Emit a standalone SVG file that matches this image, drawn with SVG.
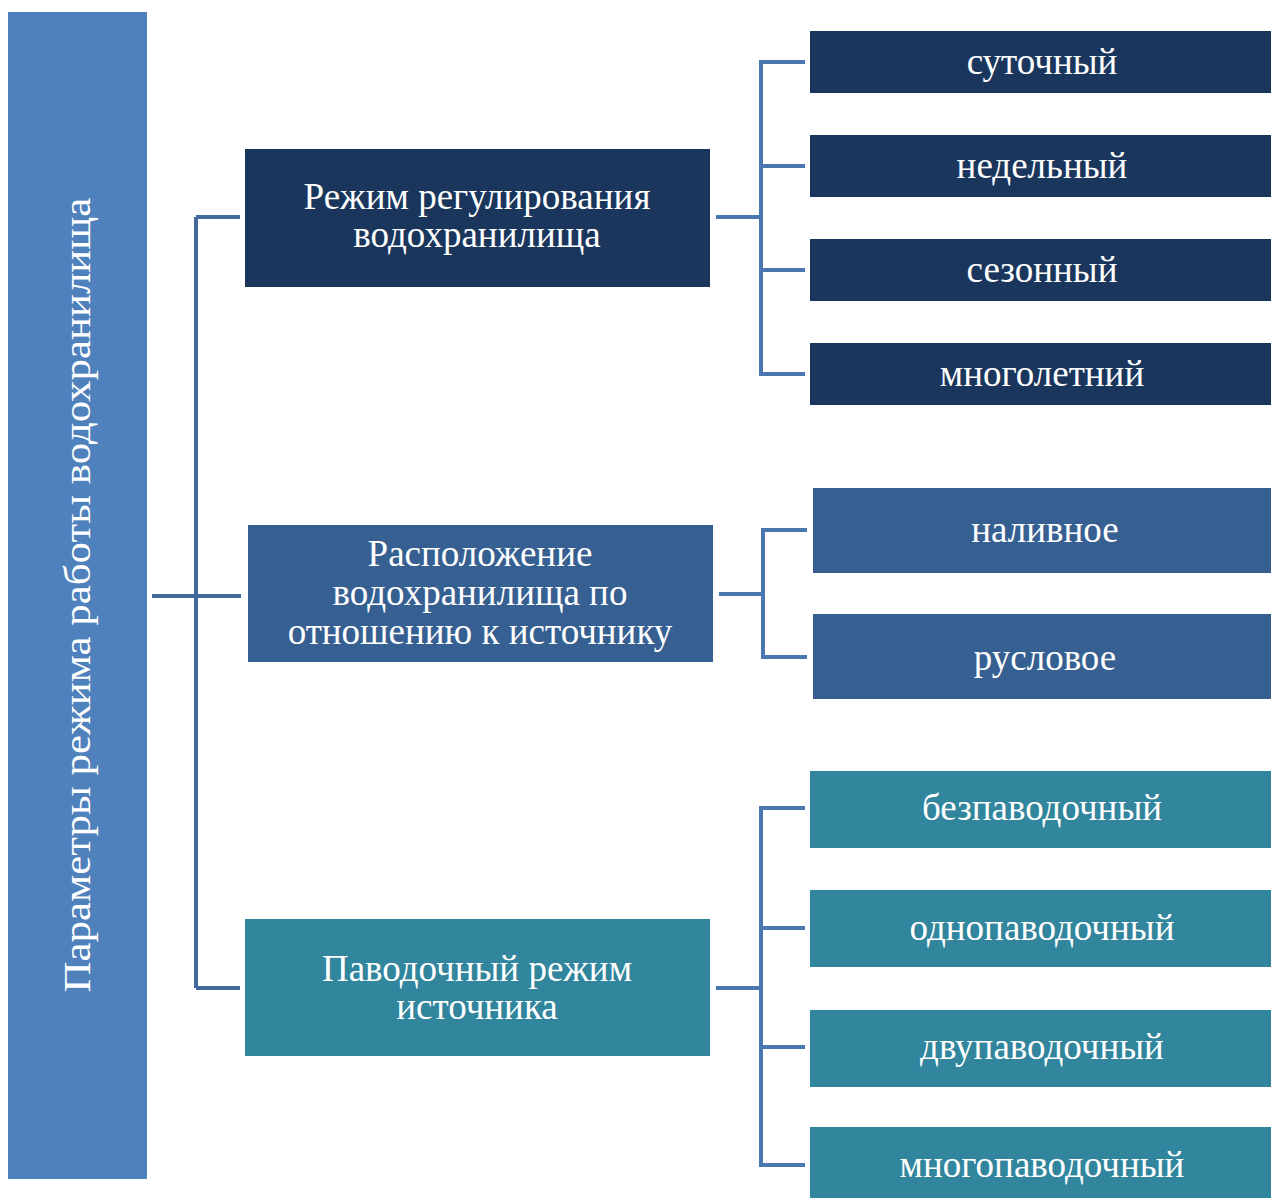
<svg xmlns="http://www.w3.org/2000/svg" width="1271" height="1198" viewBox="0 0 1271 1198">
<style>
text{font-family:"Liberation Serif","Times New Roman",serif;fill:#ffffff;font-size:37px;text-anchor:middle}
.c1{fill:#1a365d}.c2{fill:#376092}.c3{fill:#31859c}
.ln{fill:none;stroke-width:4;stroke-linejoin:miter}
.lm{stroke:#41699b}.lr{stroke:#4a77b0}
</style>
<rect width="1271" height="1198" fill="#ffffff"/>
<g id="connectors">
<path class="ln lm" d="M152 596H241M196 596V217M196 217H240M196 596V988M196 988H240"/>
<path class="ln lr" d="M716 217H761M805 62H761V374H805M761 166H805M761 270H805"/>
<path class="ln lr" d="M719 594H763M807 530H763V657H807"/>
<path class="ln lr" d="M716 988H761M805 808H761V1165H805M761 928H805M761 1047H805"/>
</g>
<g id="root">
<rect x="8" y="12" width="139" height="1167" fill="#4f81bd"/>
<text transform="translate(90 595) rotate(-90) scale(1.16 1)" font-size="44">Параметры режима работы водохранилища</text>
</g>
<g id="n1"><rect class="c1" x="245" y="149" width="465" height="138"/><text x="477" y="209">Режим регулирования</text><text x="477" y="247">водохранилища</text></g>
<g id="n2"><rect class="c2" x="248" y="525" width="465" height="137"/><text x="480" y="566">Расположение</text><text x="480" y="605">водохранилища по</text><text x="480" y="644">отношению к источнику</text></g>
<g id="n3"><rect class="c3" x="245" y="919" width="465" height="137"/><text x="477" y="981">Паводочный режим</text><text x="477" y="1019">источника</text></g>
<g id="n1a"><rect class="c1" x="810" y="31" width="461" height="62"/><text x="1042" y="74">суточный</text></g>
<g id="n1b"><rect class="c1" x="810" y="135" width="461" height="62"/><text x="1042" y="178">недельный</text></g>
<g id="n1c"><rect class="c1" x="810" y="239" width="461" height="62"/><text x="1042" y="282">сезонный</text></g>
<g id="n1d"><rect class="c1" x="810" y="343" width="461" height="62"/><text x="1042" y="386">многолетний</text></g>
<g id="n2a"><rect class="c2" x="813" y="488" width="458" height="85"/><text x="1045" y="542">наливное</text></g>
<g id="n2b"><rect class="c2" x="813" y="614" width="458" height="85"/><text x="1045" y="670">русловое</text></g>
<g id="n3a"><rect class="c3" x="810" y="771" width="461" height="77"/><text x="1042" y="820">безпаводочный</text></g>
<g id="n3b"><rect class="c3" x="810" y="890" width="461" height="77"/><text x="1042" y="940">однопаводочный</text></g>
<g id="n3c"><rect class="c3" x="810" y="1010" width="461" height="77"/><text x="1042" y="1059">двупаводочный</text></g>
<g id="n3d"><rect class="c3" x="810" y="1127" width="461" height="71"/><text x="1042" y="1177">многопаводочный</text></g>
</svg>
